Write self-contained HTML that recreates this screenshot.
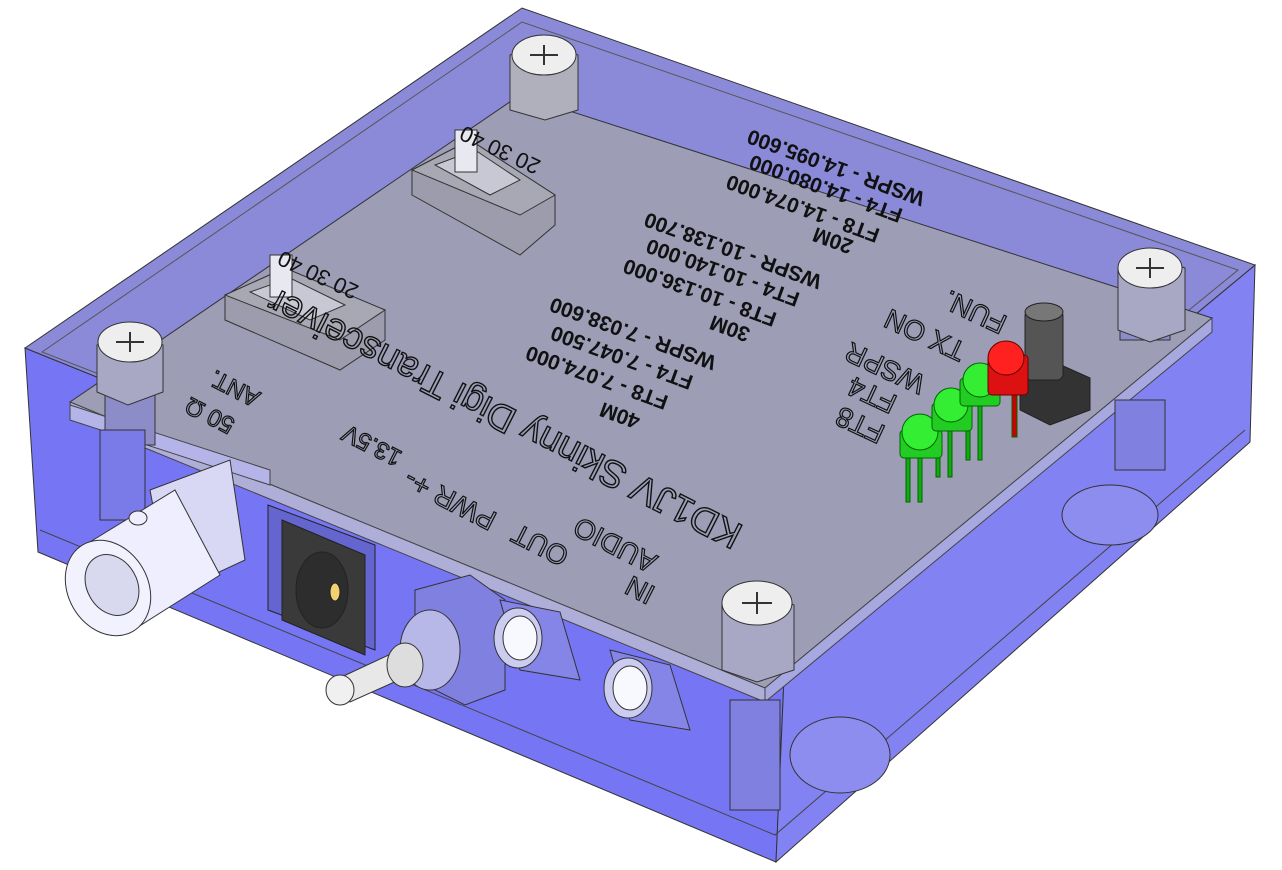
<!DOCTYPE html>
<html><head><meta charset="utf-8"><style>
html,body{margin:0;padding:0;background:#fff;}
svg{display:block;font-family:"Liberation Sans",sans-serif;}
</style></head><body>
<svg width="1282" height="870" viewBox="0 0 1282 870" xmlns="http://www.w3.org/2000/svg">
<polygon points="25,348 785,655 776,862 38,552" fill="#7676f4" stroke="#333" stroke-width="1"/>
<polygon points="785,655 1255,265 1250,442 776,862" fill="#8282f2" stroke="#333" stroke-width="1"/>
<polyline points="40,530 775,835 1245,430" fill="none" stroke="#444" stroke-width="1"/>
<polygon points="25,348 522,8 1255,265 785,655" fill="#8a8ad8" stroke="#333" stroke-width="1"/>
<polygon points="42,352 522,22 1238,270 785,640" fill="none" stroke="#555" stroke-width="1"/>
<polygon points="70,402 520,95 1212,318 765,688" fill="#9d9db6" stroke="#333" stroke-width="1"/>
<polygon points="70,402 765,688 765,702 72,418" fill="#aeaed8" stroke="#444" stroke-width="1"/>
<polygon points="765,688 1212,318 1212,332 765,702" fill="#a8a8e0" stroke="#444" stroke-width="1"/>
<polygon points="70,405 270,470 270,485 70,420" fill="#b4b4e8" stroke="#444" stroke-width="1"/>
<g stroke="#333" stroke-width="1">
<rect x="105" y="355" width="50" height="90" fill="#8c8cc8"/>
<rect x="1120" y="280" width="50" height="60" fill="#8c8cc8"/>
<rect x="1115" y="400" width="50" height="70" fill="#8080e0"/>
<rect x="730" y="700" width="50" height="110" fill="#8080e0"/>
<rect x="100" y="430" width="45" height="90" fill="#7a7ae8"/>
</g>
<ellipse cx="840" cy="755" rx="50" ry="38" fill="#8d8df0" stroke="#333"/>
<ellipse cx="1110" cy="515" rx="48" ry="30" fill="#8d8df0" stroke="#333"/>
<g stroke="#333" stroke-width="1">
<polygon points="510,55 545,45 578,55 578,110 545,120 510,110" fill="#b0b0bc"/>
<ellipse cx="544" cy="55" rx="32" ry="20" fill="#eee"/>
<polygon points="97,345 128,332 163,345 163,392 128,405 97,392" fill="#a8a8c4"/>
<ellipse cx="130" cy="342" rx="32" ry="20" fill="#eee"/>
<polygon points="1118,268 1150,255 1185,268 1185,330 1150,342 1118,330" fill="#a8a8c4"/>
<ellipse cx="1150" cy="268" rx="32" ry="20" fill="#eee"/>
<polygon points="722,605 757,592 794,605 794,670 757,682 722,670" fill="#a8a8c4"/>
<ellipse cx="757" cy="603" rx="35" ry="22" fill="#eee"/>
</g>
<g stroke="#333" stroke-width="2" fill="none">
<path d="M530,55 h28 M544,45 v20"/><path d="M116,342 h28 M130,332 v20"/>
<path d="M1136,268 h28 M1150,258 v20"/><path d="M742,603 h30 M757,592 v22"/>
</g>
<g stroke="#333" stroke-width="1">
<polygon points="412,170 470,140 555,195 555,225 520,255 412,195" fill="#9c9cac"/>
<polygon points="412,170 470,140 555,195 520,215" fill="#a8a8b4"/>
<polygon points="435,165 475,150 520,180 490,195" fill="#c8c8d4"/>
<rect x="455" y="130" width="22" height="42" fill="#e8e8f0"/>
<polygon points="225,295 285,268 385,310 385,340 340,370 225,320" fill="#9c9cac"/>
<polygon points="225,295 285,268 385,310 340,340" fill="#a8a8b4"/>
<polygon points="250,292 290,278 345,305 310,320" fill="#c8c8d4"/>
<rect x="270" y="255" width="22" height="42" fill="#e8e8f0"/>
</g>
<g stroke="#222" stroke-width="1">
<polygon points="1020,375 1050,360 1090,378 1090,410 1050,425 1020,410" fill="#333"/>
<rect x="1025" y="310" width="38" height="70" rx="6" fill="#555"/>
<ellipse cx="1044" cy="312" rx="19" ry="9" fill="#777"/>
</g>
<g stroke="#060" stroke-width="1">
<rect x="906" y="450" width="4" height="52" fill="#1a1"/><rect x="918" y="450" width="4" height="52" fill="#1a1"/>
<rect x="936" y="425" width="4" height="52" fill="#1a1"/><rect x="948" y="425" width="4" height="52" fill="#1a1"/>
<rect x="966" y="400" width="4" height="60" fill="#1a1"/><rect x="978" y="400" width="4" height="60" fill="#1a1"/>
<rect x="1012" y="385" width="5" height="52" fill="#c00"/>
<rect x="900" y="430" width="42" height="28" rx="4" fill="#22cc22"/>
<ellipse cx="920" cy="432" rx="18" ry="18" fill="#33ee33"/>
<rect x="932" y="403" width="40" height="28" rx="4" fill="#22cc22"/>
<ellipse cx="951" cy="405" rx="17" ry="17" fill="#33ee33"/>
<rect x="960" y="378" width="40" height="28" rx="4" fill="#22cc22"/>
<ellipse cx="980" cy="380" rx="17" ry="17" fill="#33ee33"/>
<rect x="988" y="355" width="40" height="40" rx="4" fill="#dd1111" stroke="#600"/>
<ellipse cx="1006" cy="358" rx="18" ry="17" fill="#ff2020" stroke="#600"/>
</g>
<g stroke="#333" stroke-width="1">
<polygon points="150,490 230,460 245,560 170,595" fill="#d8d8f4"/>
<polygon points="85,545 175,490 220,575 130,632" fill="#eef"/>
<ellipse cx="108" cy="588" rx="40" ry="50" fill="#f2f2ff" transform="rotate(-30 108 588)"/>
<ellipse cx="112" cy="585" rx="25" ry="32" fill="#d8d8ee" transform="rotate(-30 112 585)"/>
<ellipse cx="138" cy="518" rx="9" ry="7" fill="#eef"/>
</g>
<g stroke="#222" stroke-width="1">
<polygon points="268,505 375,545 375,650 268,610" fill="#6565d0"/>
<polygon points="282,520 365,555 365,655 282,620" fill="#3a3a3a"/>
<ellipse cx="322" cy="590" rx="26" ry="38" fill="#2d2d2d"/>
<ellipse cx="335" cy="592" rx="5" ry="9" fill="#f4d070"/>
</g>
<g stroke="#333" stroke-width="1">
<polygon points="415,590 470,575 505,600 505,690 465,705 415,680" fill="#8080e0"/>
<ellipse cx="430" cy="650" rx="30" ry="40" fill="#b8b8e8"/>
<polygon points="335,680 395,652 410,675 350,702" fill="#e8e8e8"/>
<ellipse cx="340" cy="690" rx="14" ry="15" fill="#f0f0f0"/>
<ellipse cx="405" cy="665" rx="18" ry="22" fill="#ddd"/>
</g>
<g stroke="#333" stroke-width="1">
<polygon points="500,600 560,612 580,680 520,670" fill="#8585e8"/>
<ellipse cx="518" cy="638" rx="24" ry="30" fill="#ccccf0"/>
<ellipse cx="520" cy="638" rx="17" ry="22" fill="#f8f8ff"/>
<polygon points="610,650 670,665 690,730 630,720" fill="#8585e8"/>
<ellipse cx="628" cy="688" rx="24" ry="30" fill="#ccccf0"/>
<ellipse cx="630" cy="688" rx="17" ry="22" fill="#f8f8ff"/>
</g>
<g fill="#111" text-anchor="middle" dominant-baseline="central">
<text font-size="38" transform="translate(505,418) rotate(207)" fill="none" stroke="#111" stroke-width="1.4">KD1JV Skinny Digi Transceiver</text>
<g font-size="21" font-weight="bold">
<text transform="translate(836,167) rotate(200)">WSPR - 14.095.600</text>
<text transform="translate(826,188) rotate(200)">FT4 - 14.080.000</text>
<text transform="translate(803,208) rotate(200)">FT8 - 14.074.000</text>
<text transform="translate(833,240) rotate(200)">20M</text>
<text transform="translate(733,250) rotate(200)">WSPR - 10.138.700</text>
<text transform="translate(723,272) rotate(200)">FT4 - 10.140.000</text>
<text transform="translate(700,292) rotate(200)">FT8 - 10.136.000</text>
<text transform="translate(730,328) rotate(200)">30M</text>
<text transform="translate(633,333) rotate(200)">WSPR - 7.038.600</text>
<text transform="translate(622,357) rotate(200)">FT4 - 7.047.500</text>
<text transform="translate(597,377) rotate(200)">FT8 - 7.074.000</text>
<text transform="translate(620,415) rotate(200)">40M</text>
</g>
<text font-size="22" transform="translate(500,150) rotate(205)">20 30 40</text>
<text font-size="22" transform="translate(318,275) rotate(205)">20 30 40</text>
<g fill="none" stroke="#111" stroke-width="1.2" font-size="28">
<text transform="translate(975,312) rotate(205)">FUN.</text>
<text transform="translate(925,335) rotate(205)">TX ON</text>
<text transform="translate(885,368) rotate(205)">WSPR</text>
<text transform="translate(872,395) rotate(205)">FT4</text>
<text transform="translate(860,425) rotate(205)">FT8</text>
<text transform="translate(615,545) rotate(207)">AUDIO</text>
<text transform="translate(640,590) rotate(207)">IN</text>
<text transform="translate(540,545) rotate(207)">OUT</text>
<text transform="translate(450,500) rotate(207)">PWR +-</text>
<text font-size="24" transform="translate(372,445) rotate(207)">13.5V</text>
<text font-size="24" transform="translate(235,388) rotate(207)">ANT.</text>
<text font-size="24" transform="translate(210,415) rotate(207)">50 Ω</text>
</g>
</g>
</svg>
</body></html>
